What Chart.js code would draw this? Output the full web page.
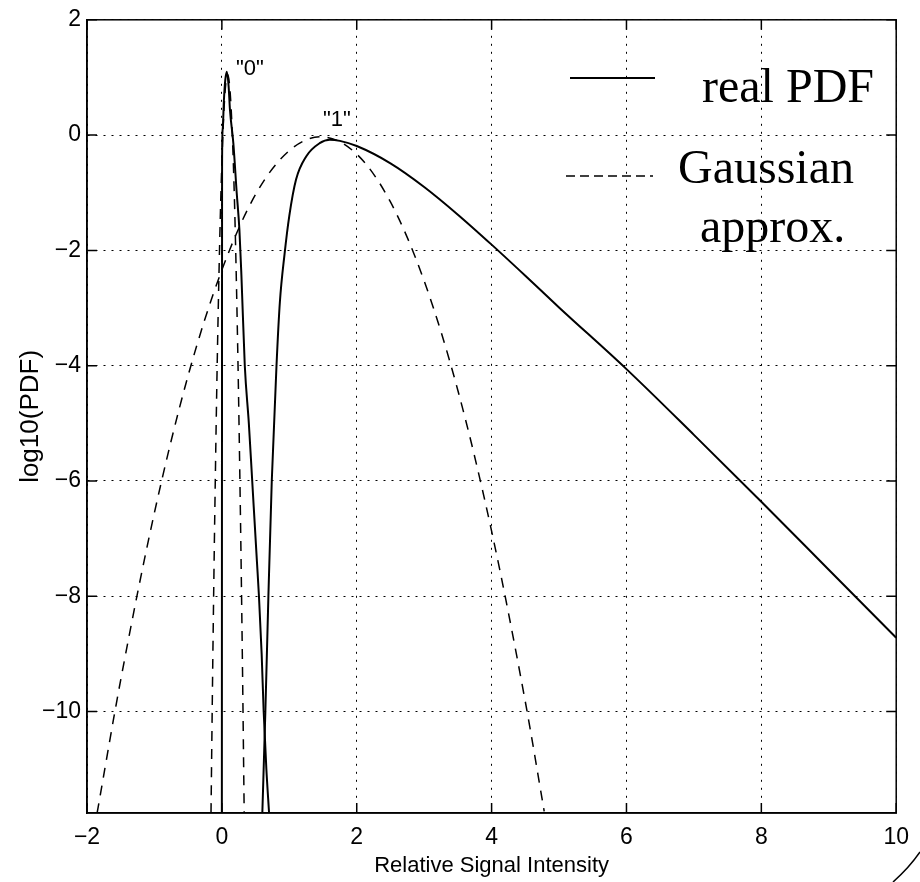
<!DOCTYPE html>
<html><head><meta charset="utf-8">
<script src="https://cdn.jsdelivr.net/npm/chart.js@4.4.0/dist/chart.umd.min.js"></script>
<style>
html,body{margin:0;padding:0;background:#fff;}
#wrap{position:relative;width:920px;height:882px;overflow:hidden;}
canvas{display:block;}
.lg{position:absolute;font-family:"Liberation Serif","Times New Roman",serif;font-size:48px;color:#000;line-height:48px;white-space:nowrap;}
.an{position:absolute;font-family:"Liberation Sans",Arial,sans-serif;font-size:22px;color:#000;line-height:22px;white-space:nowrap;}
svg{position:absolute;left:0;top:0;}
</style></head><body>
<div id="wrap">
<canvas id="c" width="920" height="882"></canvas>
<div class="lg" style="left:702px;top:62px;">real PDF</div>
<div class="lg" style="left:678px;top:143px;">Gaussian</div>
<div class="lg" style="left:700px;top:202px;">approx.</div>
<div class="an" style="left:236px;top:57px;">"0"</div>
<div class="an" style="left:323px;top:108px;">"1"</div>
<svg width="920" height="882"><path d="M893 882 Q909 868 920 852" stroke="#000" stroke-width="1.5" fill="none"/></svg>
</div>
<script>
// tick labels
const xTicks = [-2, 0, 2, 4, 6, 8, 10];
const yTicks = [2, 0, -2, -4, -6, -8, -10];

// real PDF, symbol "0"
const xReal0 = [0, 0.003, 0.012, 0.03, 0.05, 0.074, 0.10, 0.12, 0.17, 0.22, 0.26, 0.29, 0.34, 0.40, 0.45, 0.52, 0.55, 0.59, 0.62, 0.66, 0.70];
const yReal0 = [-11.76, -0.5, 0.1, 0.6, 0.95, 1.10, 0.85, 0.44, -0.14, -1.0, -1.64, -2.44, -4.0, -5.0, -6.0, -7.4, -8.0, -9.0, -10.0, -11.0, -11.76];

// real PDF, symbol "1"
const xReal1 = [0.60, 0.645, 0.69, 0.74, 0.81, 0.86, 0.93, 1.0, 1.10, 1.25, 1.45, 1.6, 1.75, 2.0, 2.5, 3.0, 3.5, 4.0, 4.5, 5.0, 6.0, 7.0, 8.0, 9.0, 10.0];
const yReal1 = [-11.76, -10, -8, -6, -4, -2.9, -2.06, -1.40, -0.77, -0.37, -0.14, -0.08, -0.10, -0.19, -0.49, -0.90, -1.38, -1.90, -2.44, -2.99, -4.06, -5.20, -6.36, -7.54, -8.72];

// Gaussian approximation, symbol "0"
const xGauss0 = [-0.161, -0.135, -0.105, -0.065, -0.015, 0.035, 0.085, 0.135, 0.185, 0.235, 0.275, 0.305, 0.331];
const yGauss0 = [-11.76, -9.16, -6.57, -3.70, -1.06, 0.52, 1.05, 0.52, -1.06, -3.70, -6.57, -9.16, -11.76];

// Gaussian approximation, symbol "1"
const xGauss1 = [-1.85, -1.5, -1.0, -0.5, 0.0, 0.5, 1.0, 1.47, 2.0, 2.5, 3.0, 3.5, 4.0, 4.5, 4.78];
const yGauss1 = [-11.76, -9.45, -6.55, -4.17, -2.34, -1.03, -0.27, -0.03, -0.33, -1.16, -2.53, -4.43, -6.87, -9.83, -11.73];

const pts = (xs, ys) => xs.map((v, i) => ({x: v, y: ys[i]}));
const FONT = "'Liberation Sans', Arial, sans-serif";

const solid = (xs, ys) => ({data: pts(xs, ys), borderColor: '#000', borderWidth: 2, pointRadius: 0, fill: false, cubicInterpolationMode: 'monotone'});
const dashed = (xs, ys) => ({data: pts(xs, ys), borderColor: '#000', borderWidth: 1.5, borderDash: [10, 8], pointRadius: 0, fill: false, cubicInterpolationMode: 'monotone'});

const boxPlugin = {
  id: 'box',
  afterDraw(chart) {
    const {ctx, chartArea: a, scales: {x, y}} = chart;
    ctx.save();
    ctx.strokeStyle = '#000';
    ctx.lineWidth = 1.5;
    ctx.setLineDash([]);
    ctx.strokeRect(a.left, a.top, a.right - a.left, a.bottom - a.top);
    ctx.beginPath();
    xTicks.forEach(v => {
      const p = x.getPixelForValue(v);
      ctx.moveTo(p, a.bottom); ctx.lineTo(p, a.bottom - 10);
      ctx.moveTo(p, a.top); ctx.lineTo(p, a.top + 10);
    });
    yTicks.forEach(v => {
      const p = y.getPixelForValue(v);
      ctx.moveTo(a.left, p); ctx.lineTo(a.left + 10, p);
      ctx.moveTo(a.right, p); ctx.lineTo(a.right - 10, p);
    });
    ctx.stroke();
    // legend samples
    ctx.lineWidth = 2;
    ctx.beginPath(); ctx.moveTo(570, 78); ctx.lineTo(655, 78); ctx.stroke();
    ctx.lineWidth = 1.5;
    ctx.setLineDash([9, 5]);
    ctx.beginPath(); ctx.moveTo(566, 176); ctx.lineTo(653, 176); ctx.stroke();
    ctx.restore();
  }
};

new Chart(document.getElementById('c'), {
  type: 'line',
  data: {
    datasets: [
      solid(xReal0, yReal0),
      solid(xReal1, yReal1),
      dashed(xGauss0, yGauss0),
      dashed(xGauss1, yGauss1)
    ]
  },
  options: {
    responsive: false,
    animation: false,
    devicePixelRatio: 1,
    layout: {padding: {top: 16, right: 22, left: 0, bottom: 0}},
    plugins: {legend: {display: false}, tooltip: {enabled: false}},
    scales: {
      x: {
        type: 'linear', min: -2, max: 10,
        afterBuildTicks: s => { s.ticks = xTicks.map(v => ({value: v})); },
        afterFit: s => { s.height = 69; },
        ticks: {font: {family: FONT, size: 23}, color: '#000', padding: 11, maxRotation: 0, autoSkip: false,
                callback: v => String(v).replace('-', '\u2212')},
        grid: {color: '#000', lineWidth: 1, drawTicks: false},
        border: {display: true, color: '#000', width: 1.5, dash: [2, 6]},
        title: {display: true, text: 'Relative Signal Intensity', color: '#000', font: {family: FONT, size: 22}, padding: {top: 0, bottom: 3}}
      },
      y: {
        type: 'linear', min: -11.76, max: 2,
        afterBuildTicks: s => { s.ticks = yTicks.map(v => ({value: v})); },
        afterFit: s => { s.width = 87; },
        ticks: {font: {family: FONT, size: 23}, color: '#000', padding: 6, autoSkip: false,
                callback: v => String(v).replace('-', '\u2212')},
        grid: {color: '#000', lineWidth: 1, drawTicks: false},
        border: {display: true, color: '#000', width: 1.5, dash: [2, 6]},
        title: {display: true, text: 'log10(PDF)', color: '#000', font: {family: FONT, size: 26}, padding: {top: 15, bottom: 0}}
      }
    }
  },
  plugins: [boxPlugin]
});
</script>
</body></html>
